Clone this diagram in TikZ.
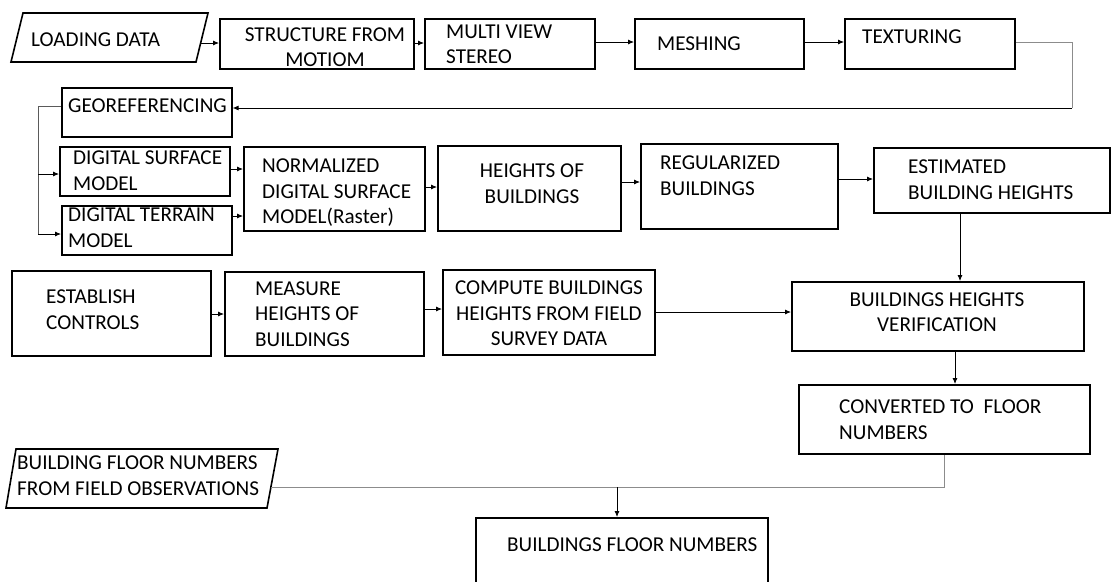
\documentclass[tikz,border=0pt]{standalone}
\usepackage{fontspec}
\setmainfont{Carlito}
\usetikzlibrary{arrows.meta}
\definecolor{wiregray}{RGB}{140,140,140}
\definecolor{busgray}{RGB}{90,90,90}
\tikzset{
  box/.style={draw=black, line width=1.6pt, inner sep=0pt},
  lbl/.style={inner sep=0pt, align=left, anchor=west, font=\fontsize{21.2}{25.5}\selectfont},
  clbl/.style={lbl, align=center, anchor=center},
  arr/.style={line width=0.8pt, -{Latex[length=6pt,width=5pt]}},
  wire/.style={line width=0.9pt, draw=wiregray},
  bus/.style={line width=0.9pt, draw=busgray},
}
% rectangle node from its top-left and bottom-right corners
\newcommand\bx[5]{\node[box,anchor=north west,minimum width={(#4-#2)*1pt},minimum height={(#5-#3)*1pt}] (#1) at (#2,#3) {};}
\begin{document}
\begin{tikzpicture}[x=1pt,y=-1pt]
\useasboundingbox (0,0) rectangle (1111,581);
\clip (0,0) rectangle (1111,581);

% ---- photogrammetry pipeline ----
\draw[box] (23,13) -- (208,13) -- (196,62) -- (11,62) -- cycle;
\node[lbl] (load) at (31,40) {LOADING DATA};
\coordinate (loadout) at (201,43);
\bx{sfm}{219}{18}{413}{68}
\node[clbl] (sfmt) at (325,47) {STRUCTURE FROM\\MOTIOM};
\bx{mvs}{424}{18}{594}{68}
\node[lbl] (mvst) at (446,44.5) {MULTI VIEW\\STEREO};
\bx{mesh}{634}{18}{803}{68}
\node[lbl] (mesht) at (657,44) {MESHING};
\bx{tex}{844}{18}{1014}{68}
\node[lbl] (text) at (862,37) {TEXTURING};

% ---- surface models ----
\bx{geo}{61}{87}{231}{136}
\node[lbl] (geot) at (68,106) {GEOREFERENCING};
\bx{dsm}{59}{146}{229}{195}
\node[lbl] (dsmt) at (73,170.5) {DIGITAL SURFACE\\MODEL};
\bx{dtm}{61}{205}{231}{254}
\node[lbl] (dtmt) at (68,227.5) {DIGITAL TERRAIN\\MODEL};
\bx{ndsm}{243}{146}{424}{230}
\node[lbl] (ndsmt) at (262,193) {NORMALIZED\\DIGITAL SURFACE\\MODEL(Raster)};
\bx{hob}{437}{145}{620}{230}
\node[clbl] (hobt) at (532,183.5) {HEIGHTS OF\\BUILDINGS};
\bx{reg}{640}{143}{837}{228}
\node[lbl] (regt) at (660,175.5) {REGULARIZED\\BUILDINGS};
\bx{est}{873}{147}{1109}{212}
\node[lbl] (estt) at (908,179.5) {ESTIMATED\\BUILDING HEIGHTS};

% ---- field survey ----
\bx{ctl}{11}{270}{210}{355}
\node[lbl] (ctlt) at (46,309.5) {ESTABLISH\\CONTROLS};
\bx{meas}{224}{271}{423}{355}
\node[lbl] (meast) at (255,314) {MEASURE\\HEIGHTS OF\\BUILDINGS};
\bx{comp}{442}{269}{654}{354}
\node[clbl] (compt) at (549,313.5) {COMPUTE BUILDINGS\\HEIGHTS FROM FIELD\\SURVEY DATA};
\bx{verif}{791}{281}{1083}{350}
\node[clbl] (verift) at (937,312) {BUILDINGS HEIGHTS\\VERIFICATION};
\bx{conv}{798}{384}{1089}{453}
\node[lbl] (convt) at (839,419.5) {CONVERTED TO~~FLOOR\\NUMBERS};

% ---- floor numbers ----
\draw[box] (16,449) -- (278,449) -- (267,508) -- (6,508) -- cycle;
\node[lbl] (obs) at (17,475.5) {BUILDING FLOOR NUMBERS\\FROM FIELD OBSERVATIONS};
\coordinate (obsout) at (271,487);
\bx{fin}{475}{517}{767}{600}
\node[lbl] (fint) at (507,545) {BUILDINGS FLOOR NUMBERS};

% ---- connectors ----
\draw[arr] (loadout) -- (sfm.west |- loadout);
\draw[arr] (sfm.east |- 0,43) -- (mvs.west |- 0,43);
\draw[arr] (mvs.east |- 0,42) -- (mesh.west |- 0,42);
\draw[arr] (mesh.east |- 0,42) -- (tex.west |- 0,42);
\coordinate (loopc) at (1072,108);
\draw[wire] (tex.east |- 0,42) -| (loopc);
\draw[arr] (loopc) -- (geo.east |- loopc);

\coordinate (busc) at (38,106);
\draw[bus] (geo.west |- busc) -- (busc) -- (busc |- 0,234);
\draw[arr] (busc |- 0,174) -- (dsm.west |- 0,174);
\draw[arr] (busc |- 0,234) -- (dtm.west |- 0,234);
\draw[arr] (dsm.east |- 0,169) -- (ndsm.west |- 0,169);
\draw[arr] (dtm.east |- 0,216) -- (ndsm.west |- 0,216);
\draw[arr] (ndsm.east |- 0,187) -- (hob.west |- 0,187);
\draw[arr] (hob.east |- 0,182) -- (reg.west |- 0,182);
\draw[arr] (reg.east |- 0,179) -- (est.west |- 0,179);
\draw[arr] (est.south -| 960,0) -- (verif.north -| 960,0);

\draw[arr] (ctl.east |- 0,314) -- (meas.west |- 0,314);
\draw[arr] (meas.east |- 0,309) -- (comp.west |- 0,309);
\draw[arr] (comp.east |- 0,312) -- (verif.west |- 0,312);
\draw[arr] (verif.south -| 955,0) -- (conv.north -| 955,0);

\coordinate (join) at (617,487);
\draw[wire] (obsout) -| (conv.south -| 944,0);
\draw[arr] (join) -- (fin.north -| join);
\end{tikzpicture}
\end{document}
